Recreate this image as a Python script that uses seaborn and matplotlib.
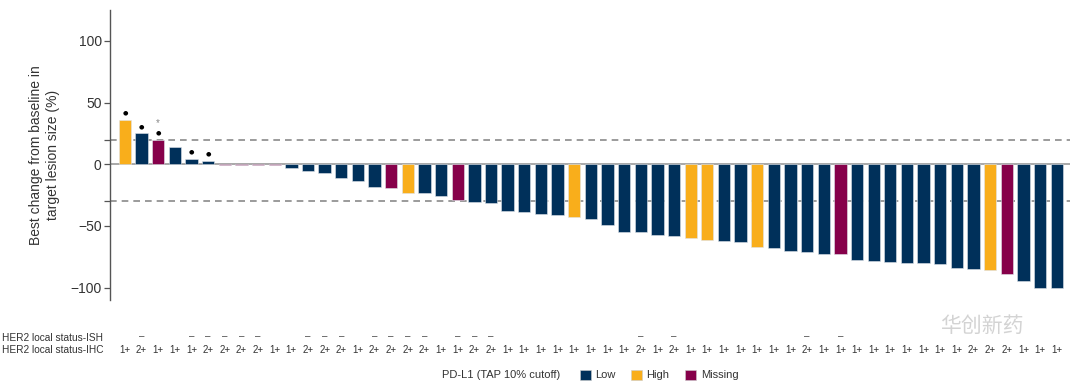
import pandas as pd
import numpy as np
import seaborn as sns
import matplotlib.pyplot as plt
from matplotlib.patches import Patch
from matplotlib import transforms

sns.set_theme(style="white")
plt.rcParams["font.family"] = ["Liberation Sans", "Noto Sans CJK SC", "DejaVu Sans"]

# best % change per patient, in waterfall order
change = [
    36, 25, 20, 14, 4.6, 3, -1, -1, -1, -1,
    -2.8, -5.2, -7.4, -11.5, -13.7, -18.3, -19.4, -23.2, -23.2, -25.4,
    -28.9, -30.3, -31.1, -37.6, -38.4, -40.7, -41.5, -43.1, -44.7, -49.6,
    -55, -55, -57.6, -58.4, -59.7, -61.4, -62.2, -63, -67.1, -67.9,
    -70.1, -70.8, -72.6, -72.6, -77.5, -78.3, -79.1, -79.9, -79.9, -80.7,
    -84, -84.6, -85.9, -88.6, -94.9, -100, -100,
]
pdl1 = [
    "High", "Low", "Missing", "Low", "Low", "Low", "Missing", "Missing", "Missing", "Missing",
    "Low", "Low", "Low", "Low", "Low", "Low", "Missing", "High", "Low", "Low",
    "Missing", "Low", "Low", "Low", "Low", "Low", "Low", "High", "Low", "Low",
    "Low", "Low", "Low", "Low", "High", "High", "Low", "Low", "High", "Low",
    "Low", "Low", "Low", "Missing", "Low", "Low", "Low", "Low", "Low", "Low",
    "Low", "Low", "High", "Missing", "Low", "Low", "Low",
]
ihc = [
    "1+", "2+", "1+", "1+", "1+", "2+", "2+", "2+", "2+", "1+",
    "1+", "2+", "2+", "2+", "1+", "2+", "2+", "2+", "2+", "1+",
    "1+", "2+", "2+", "1+", "1+", "1+", "1+", "1+", "1+", "1+",
    "1+", "2+", "1+", "2+", "1+", "1+", "1+", "1+", "1+", "1+",
    "1+", "2+", "1+", "1+", "1+", "1+", "1+", "1+", "1+", "1+",
    "1+", "2+", "2+", "2+", "1+", "1+", "1+",
]
# patients with ISH result "-" (0-based)
ish_neg = [1, 4, 5, 6, 7, 8, 11, 12, 13, 15, 16, 17, 18, 20, 21, 22, 31, 33, 41, 43]
dot_bars = [0, 1, 2, 4, 5]
star_bars = [2]

levels = ["Low", "High", "Missing"]
colors = {"Low": "#00305A", "High": "#F9AE1B", "Missing": "#86004A"}

df = pd.DataFrame({"patient": range(len(change)), "change": change, "pdl1": pdl1})

fig = plt.figure(figsize=(10.8, 3.84), dpi=100)
ax = fig.add_axes([110 / 1080, 1 - 300 / 384, 960 / 1080, 290 / 384])

sns.barplot(
    data=df, x="patient", y="change", hue="pdl1", hue_order=levels,
    palette=colors, saturation=1, dodge=False, width=0.74, legend=False,
    edgecolor="#dfe4ea", linewidth=0.4, ax=ax, zorder=2,
)

ax.set_xlim(-0.9, 56.8)
ax.set_ylim(-110, 125)
ax.axhline(0, color="#999999", lw=1.2, zorder=1)
for y in (20, -30):
    ax.axhline(y, color="#8a8a8a", lw=1.2, ls=(0, (4, 3)), zorder=0)

for i in dot_bars:
    ax.annotate("●", (i, max(change[i], 0)), xytext=(0, 3), textcoords="offset points",
                ha="center", va="bottom", fontsize=4.5, color="black",
                family="DejaVu Sans")
for i in star_bars:
    ax.annotate("*", (i, max(change[i], 0)), xytext=(0, 8), textcoords="offset points",
                ha="center", va="bottom", fontsize=7, color="#888888")

sns.despine(ax=ax, top=True, right=True, bottom=True)
ax.spines["left"].set_color("#555555")
ax.spines["left"].set_linewidth(1.0)
ax.set_yticks([-100, -50, 0, 50, 100])
ax.set_yticks([-30, 20], minor=True)
ax.tick_params(axis="y", which="both", left=True, direction="out", length=4,
               width=0.9, color="#555555", labelsize=10, labelcolor="#333333", pad=2)
ax.set_xticks([])
ax.set_xlabel("")
ax.set_ylabel("Best change from baseline in\ntarget lesion size (%)",
              fontsize=10, color="#333333", linespacing=1.25)
ax.yaxis.set_label_coords(-0.052, 0.5)

trans = transforms.blended_transform_factory(ax.transData, ax.transAxes)
for i in ish_neg:
    ax.text(i, -0.125, "–", transform=trans, ha="center", va="center",
            fontsize=7, color="#444444", clip_on=False)
for i, lab in enumerate(ihc):
    ax.text(i, -0.172, lab, transform=trans, ha="center", va="center",
            fontsize=7, color="#333333", clip_on=False)

fig.text(0.002, 1 - 338 / 384, "HER2 local status-ISH", ha="left", va="center",
         fontsize=7.3, color="#333333")
fig.text(0.002, 1 - 350 / 384, "HER2 local status-IHC", ha="left", va="center",
         fontsize=7.3, color="#333333")

fig.text(442 / 1080, 1 - 375 / 384, "PD-L1 (TAP 10% cutoff)", ha="left", va="center",
         fontsize=8, color="#333333")
handles = [Patch(facecolor=colors[k], edgecolor="#cccccc", linewidth=0.4, label=k) for k in levels]
fig.legend(handles=handles, loc="center left", bbox_to_anchor=(574 / 1080, 1 - 375 / 384),
           ncol=3, frameon=False, fontsize=8, handlelength=1.0, handleheight=1.0,
           handletextpad=0.4, columnspacing=1.4, borderpad=0, labelcolor="#333333")

fig.text(940 / 1080, 1 - 326 / 384, "华创新药", ha="left", va="center",
         fontsize=15, color="#c8c8c8", alpha=0.8)

fig.savefig("out.png", dpi=100)
